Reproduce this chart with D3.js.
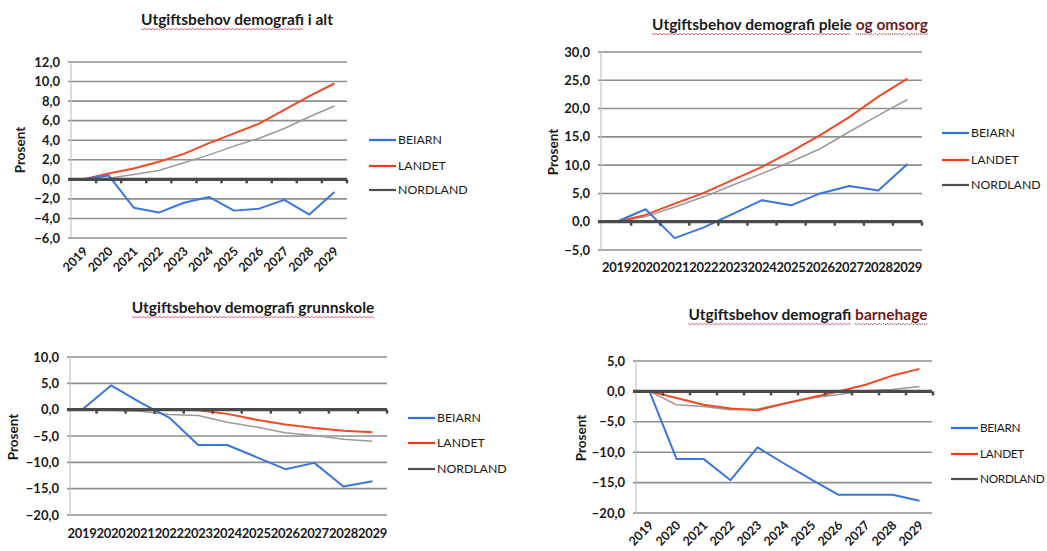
<!DOCTYPE html>
<html>
<head>
<meta charset="utf-8">
<script src="https://cdn.jsdelivr.net/npm/d3@7"></script>
<style>
  body { margin: 0; background: #fff; }
  svg { font-family: Lato, "Open Sans", sans-serif; }
</style>
</head>
<body>
<script>
// years on the category axis
var years = ["2019","2020","2021","2022","2023","2024","2025","2026","2027","2028","2029"];
var seriesNames = ["BEIARN", "LANDET", "NORDLAND"];

// Utgiftsbehov demografi i alt
var altBeiarn   = [0, 0.4, -2.9, -3.4, -2.4, -1.8, -3.2, -3.0, -2.1, -3.6, -1.3];
var altLandet   = [0, 0.6, 1.1, 1.8, 2.6, 3.7, 4.7, 5.7, 7.1, 8.5, 9.8];
var altNordland = [0, 0.1, 0.5, 0.9, 1.7, 2.5, 3.4, 4.2, 5.2, 6.4, 7.5];
var altTicks = [-6, -4, -2, 0, 2, 4, 6, 8, 10, 12];

// pleie og omsorg
var pleieBeiarn   = [0, 2.2, -2.9, -1.0, 1.4, 3.8, 2.9, 5.0, 6.3, 5.5, 10.2];
var pleieLandet   = [0, 1.2, 3.2, 5.1, 7.4, 9.7, 12.4, 15.3, 18.5, 22.1, 25.3];
var pleieNordland = [0, 0.9, 2.6, 4.4, 6.5, 8.5, 10.6, 12.9, 15.9, 18.8, 21.6];
var pleieTicks = [-5, 0, 5, 10, 15, 20, 25, 30];

// grunnskole
var skoleBeiarn   = [0, 4.6, 1.4, -1.5, -6.7, -6.7, -9.0, -11.3, -10.1, -14.6, -13.6];
var skoleLandet   = [0, 0, 0, 0, -0.1, -0.8, -1.9, -2.8, -3.5, -4.0, -4.3];
var skoleNordland = [0, -0.1, -0.3, -0.9, -1.1, -2.4, -3.3, -4.4, -4.9, -5.6, -6.0];
var skoleTicks = [-20, -15, -10, -5, 0, 5, 10];

// barnehage
var barnBeiarn   = [0, -11.1, -11.1, -14.6, -9.2, -11.9, -14.5, -17.0, -17.0, -17.0, -18.0];
var barnLandet   = [0, -1.1, -2.2, -2.8, -3.1, -2.0, -1.0, 0.0, 1.1, 2.6, 3.7];
var barnNordland = [0, -2.2, -2.5, -3.0, -2.9, -2.0, -1.1, -0.5, 0.1, 0.3, 0.8];
var barnTicks = [-20, -15, -10, -5, 0, 5];

var lineColors = ["#3a76dc", "#f04b24", "#9a9a9a"];
var legendColors = ["#2f6fe0", "#f03a1a", "#505050"];
var spellRed = "#e0506a";
var linkRed = "#6e1c1c";

var svg = d3.select("body").append("svg").attr("width", 1047).attr("height", 551);

function fmt(v) { return d3.format(".1f")(v).replace(".", ","); }

function drawPanel(p) {
  var g = svg.append("g");
  var x = d3.scaleBand().domain(years).range([p.bx0, p.bx1]);
  var y = d3.scaleLinear().domain([p.ticks[0], p.ticks[p.ticks.length - 1]]).range([p.y0, p.y1]);

  // gridlines
  g.selectAll(".grid").data(p.ticks).enter().append("line")
    .attr("x1", p.gx0).attr("x2", p.gx1)
    .attr("y1", function(d) { return y(d); }).attr("y2", function(d) { return y(d); })
    .attr("stroke", "#8e8e8e").attr("stroke-width", 1.6);

  // vertical axis
  g.append("line").attr("x1", p.gx0 + 3).attr("x2", p.gx0 + 3)
    .attr("y1", y(p.ticks[p.ticks.length - 1])).attr("y2", y(p.ticks[0]))
    .attr("stroke", "#c4c4c4").attr("stroke-width", 1.2);

  // y tick labels
  g.selectAll(".yl").data(p.ticks).enter().append("text")
    .attr("x", p.gx0 - 8).attr("y", function(d) { return y(d); }).attr("dy", "0.35em")
    .attr("text-anchor", "end").attr("font-size", 13).attr("font-weight", "bold").attr("fill", "#1a1a1a")
    .text(fmt);

  // series
  var series = [p.a, p.b, p.c];
  var line = d3.line().x(function(d, i) { return x(years[i]) + x.bandwidth() / 2; }).y(function(d) { return y(d); });
  [2, 1, 0].forEach(function(k) {
    g.append("path").datum(series[k]).attr("d", line).attr("fill", "none")
      .attr("stroke", lineColors[k]).attr("stroke-width", k == 2 ? 1.5 : 2).attr("stroke-linejoin", "round");
  });

  // category axis at zero
  g.append("line").attr("x1", p.gx0).attr("x2", p.gx1).attr("y1", y(0)).attr("y2", y(0))
    .attr("stroke", "#4a4a4a").attr("stroke-width", 3.2);
  g.selectAll(".tk").data(years).enter().append("line")
    .attr("x1", function(d) { return x(d) + x.bandwidth(); }).attr("x2", function(d) { return x(d) + x.bandwidth(); })
    .attr("y1", y(0)).attr("y2", y(0) + 4)
    .attr("stroke", "#4a4a4a").attr("stroke-width", 2.5);

  // x labels
  var xl = g.selectAll(".xl").data(years).enter().append("text")
    .attr("font-size", p.rotate ? 12.5 : 13).attr("font-weight", "bold").attr("fill", "#1a1a1a").text(function(d) { return d; });
  if (p.rotate) {
    xl.attr("text-anchor", "end")
      .attr("transform", function(d) { return "translate(" + (x(d) + x.bandwidth() / 2 + 5) + "," + p.xly + ") rotate(-45)"; });
  } else {
    xl.attr("text-anchor", "middle").attr("x", function(d) { return x(d) + x.bandwidth() / 2; }).attr("y", p.xly)
      .attr("letter-spacing", -0.3);
  }

  // y title
  g.append("text").attr("transform", "translate(" + p.ylx + "," + p.yly + ") rotate(-90)")
    .attr("text-anchor", "middle").attr("font-size", 13.5).attr("font-weight", "bold").attr("fill", "#1a1a1a")
    .text("Prosent");

  // legend
  seriesNames.forEach(function(name, k) {
    g.append("line").attr("x1", p.lx).attr("x2", p.lx + 27).attr("y1", p.ly[k]).attr("y2", p.ly[k])
      .attr("stroke", legendColors[k]).attr("stroke-width", 2.2);
    g.append("text").attr("x", p.lx + 29).attr("y", p.ly[k]).attr("dy", "0.36em")
      .attr("font-size", p.lfs || 12.3).attr("letter-spacing", p.lls || 0).attr("fill", "#1a1a1a").text(name);
  });

  // title with spelling underlines
  var t = g.append("text").attr("x", p.tx).attr("y", p.ty).attr("text-anchor", "middle")
    .attr("font-size", 15.5).attr("font-weight", "bold").attr("fill", "#1a1a1a");
  p.title.forEach(function(s) {
    t.append("tspan").attr("fill", s.color || "#1a1a1a").text(s.text);
  });
  var node = t.node();
  var pos = 0;
  p.title.forEach(function(s) {
    if (s.under) {
      var n = s.text.replace(/\s+$/, "").length;
      var sx = node.getStartPositionOfChar(pos).x;
      var w = node.getSubStringLength(pos, n);
      g.append("path")
        .attr("d", d3.range(0, Math.floor(w / 2) + 1).map(function(i) { return (i ? "L" : "M") + (sx + i * 2) + "," + (p.ty + 3.5 + (i % 2) * 1.2); }).join(""))
        .attr("fill", "none").attr("stroke", s.under).attr("stroke-width", 0.9)
        .attr("stroke-dasharray", s.dot ? "1.5,1" : null);
    }
    pos += s.text.length;
  });
}

drawPanel({ a: altBeiarn, b: altLandet, c: altNordland, ticks: altTicks,
  gx0: 68, gx1: 347, bx0: 71, bx1: 347, y0: 238, y1: 62, rotate: true, xly: 252,
  ylx: 25, yly: 150, lx: 369, ly: [140, 166, 190], tx: 237, ty: 25,
  title: [{ text: "Utgiftsbehov demografi", under: spellRed }, { text: " i alt" }] });

drawPanel({ a: pleieBeiarn, b: pleieLandet, c: pleieNordland, ticks: pleieTicks,
  gx0: 598, gx1: 922, bx0: 602, bx1: 922, y0: 250, y1: 52, rotate: false, xly: 272,
  ylx: 558, yly: 152, lx: 942, ly: [133, 160, 185], tx: 790, ty: 30,
  title: [{ text: "Utgiftsbehov demografi pleie", under: spellRed }, { text: " " },
          { text: "og omsorg", color: linkRed, under: linkRed, dot: true }] });

drawPanel({ a: skoleBeiarn, b: skoleLandet, c: skoleNordland, ticks: skoleTicks,
  gx0: 67, gx1: 387, bx0: 67.5, bx1: 387, y0: 515, y1: 357, rotate: false, xly: 538,
  ylx: 18, yly: 437, lx: 408, ly: [418, 443, 469], tx: 253, ty: 313,
  title: [{ text: "Utgiftsbehov demografi grunnskole", under: spellRed }] });

drawPanel({ a: barnBeiarn, b: barnLandet, c: barnNordland, ticks: barnTicks,
  gx0: 633, gx1: 932, bx0: 636, bx1: 933, y0: 513, y1: 361, rotate: true, xly: 526,
  ylx: 586, yly: 438, lx: 951, ly: [428, 454, 479], tx: 808, ty: 320, lfs: 11.8, lls: -0.3,
  title: [{ text: "Utgiftsbehov demografi ", under: spellRed }, { text: "barnehage", color: linkRed, under: linkRed, dot: true }] });
</script>
</body>
</html>
